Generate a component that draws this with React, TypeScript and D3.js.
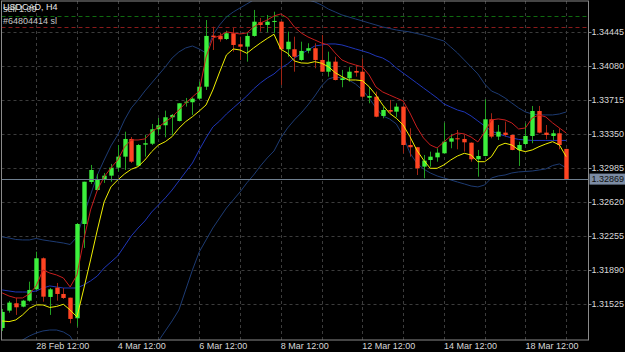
import React from "react";
import * as d3 from "d3";

const W = 625;
const H = 352;

const symbolTitle = "USDCAD, H4";
const orderText = "sell 1.00";
const slText = "#64804414 sl";

const openP = [
  1.31271, 1.31457, 1.31536, 1.315, 1.31564, 1.31686, 1.32019, 1.31604, 1.31704, 1.31636,
  1.31596, 1.31375, 1.32387, 1.32838, 1.32752, 1.3286, 1.32906, 1.32992, 1.3311, 1.333,
  1.33013, 1.33239, 1.33249, 1.33404, 1.33447, 1.33533, 1.33493, 1.3369, 1.33694, 1.33733,
  1.33861, 1.34409, 1.34409, 1.34373, 1.34435, 1.34316, 1.34291, 1.34406, 1.34553, 1.34524,
  1.34559, 1.34559, 1.34263, 1.34263, 1.34148, 1.34248, 1.34274, 1.34148, 1.34022, 1.3413,
  1.33933, 1.33951, 1.3403, 1.34022, 1.33743, 1.33754, 1.33547, 1.33611, 1.33593, 1.33647,
  1.33235, 1.33211, 1.33003, 1.33074, 1.33103, 1.33146, 1.33271, 1.33307, 1.333, 1.3326,
  1.33082, 1.33117, 1.33511, 1.33325, 1.33368, 1.33343, 1.33182, 1.33246, 1.33332, 1.336,
  1.33368, 1.33332, 1.33361, 1.33193,
];
const highP = [
  1.31475, 1.31561, 1.31593, 1.31572, 1.31768, 1.3209, 1.32028, 1.317, 1.31754, 1.317,
  1.31596, 1.32398, 1.32841, 1.33021, 1.32924, 1.32935, 1.33032, 1.33235, 1.33378, 1.33321,
  1.33246, 1.33343, 1.33461, 1.33525, 1.33604, 1.33568, 1.33683, 1.3374, 1.33748, 1.33915,
  1.34577, 1.34505, 1.34438, 1.34462, 1.34491, 1.34398, 1.34438, 1.34685, 1.34599, 1.34631,
  1.34666, 1.34567, 1.34452, 1.34398, 1.34344, 1.34327, 1.34327, 1.34416, 1.34237, 1.34183,
  1.34041, 1.3407, 1.34094, 1.34166, 1.33861, 1.33808, 1.33647, 1.33719, 1.33683, 1.33654,
  1.33415, 1.33214, 1.33128, 1.33164, 1.332, 1.33475, 1.33354, 1.33396, 1.33343, 1.33262,
  1.33182, 1.33726, 1.33576, 1.3345, 1.33486, 1.33348, 1.33271, 1.33468, 1.33654, 1.33654,
  1.3345, 1.33396, 1.33415, 1.33196,
];
const lowP = [
  1.31239, 1.31435, 1.31411, 1.31493, 1.31553, 1.31679, 1.31553, 1.31411, 1.31564, 1.31582,
  1.31321, 1.31285, 1.3213, 1.32817, 1.32745, 1.32828, 1.32841, 1.32949, 1.32967, 1.33042,
  1.3301, 1.3311, 1.33235, 1.33343, 1.33318, 1.33343, 1.33488, 1.33647, 1.33558, 1.33719,
  1.33826, 1.34255, 1.34344, 1.34363, 1.34237, 1.34148, 1.3413, 1.34398, 1.34452, 1.34445,
  1.34435, 1.3388, 1.34183, 1.34022, 1.3414, 1.3422, 1.34059, 1.34019, 1.33969, 1.33928,
  1.33855, 1.33915, 1.33969, 1.33737, 1.33683, 1.33533, 1.33522, 1.33576, 1.33533, 1.33146,
  1.3311, 1.32913, 1.32878, 1.33003, 1.33056, 1.33144, 1.332, 1.33189, 1.33164, 1.33056,
  1.32895, 1.33114, 1.33307, 1.33289, 1.33325, 1.33179, 1.3301, 1.33235, 1.33254, 1.33361,
  1.33297, 1.33289, 1.33189, 1.32865,
];
const closeP = [
  1.31443, 1.31543, 1.31493, 1.31564, 1.31679, 1.32019, 1.31607, 1.31686, 1.31636, 1.31593,
  1.31368, 1.32387, 1.32841, 1.32967, 1.3286, 1.32906, 1.32992, 1.3311, 1.333, 1.33056,
  1.33235, 1.33254, 1.33404, 1.33447, 1.33533, 1.33558, 1.33683, 1.337, 1.33733, 1.33861,
  1.34406, 1.34395, 1.3437, 1.34435, 1.34309, 1.34291, 1.34406, 1.34559, 1.34524, 1.34559,
  1.34567, 1.34263, 1.34344, 1.34183, 1.34245, 1.34274, 1.34148, 1.34022, 1.3413, 1.33933,
  1.33951, 1.34022, 1.34012, 1.33754, 1.33761, 1.33539, 1.33611, 1.33593, 1.33647, 1.33235,
  1.33211, 1.32985, 1.33067, 1.3311, 1.33153, 1.33271, 1.33307, 1.33297, 1.33264, 1.33082,
  1.33117, 1.33511, 1.33325, 1.33378, 1.33343, 1.33182, 1.33235, 1.33332, 1.336, 1.33368,
  1.33343, 1.33361, 1.33235, 1.32869,
];

const maRed = [
  1.31647, 1.31614, 1.31593, 1.31593, 1.31636, 1.31722, 1.31894, 1.31861, 1.3184, 1.31808,
  1.31711, 1.3184, 1.32216, 1.32538, 1.32752, 1.32892, 1.32989, 1.33074, 1.33214, 1.33289,
  1.33289, 1.333, 1.33375, 1.33429, 1.33482, 1.33536, 1.33611, 1.33686, 1.33751, 1.33815,
  1.3418, 1.34384, 1.34406, 1.34449, 1.34438, 1.34427, 1.34438, 1.34502, 1.34545, 1.34577,
  1.3462, 1.34642, 1.34599, 1.34502, 1.34438, 1.34395, 1.34363, 1.3433, 1.34309, 1.34223,
  1.34148, 1.34116, 1.34094, 1.34073, 1.33987, 1.33858, 1.33804, 1.33772, 1.3374, 1.33708,
  1.33579, 1.33429, 1.33311, 1.33235, 1.33203, 1.33268, 1.33332, 1.33364, 1.33354, 1.33321,
  1.33268, 1.33375, 1.33504, 1.33515, 1.33504, 1.33472, 1.33407, 1.33418, 1.33525, 1.33558,
  1.33536, 1.33472, 1.33418, 1.33364,
];
const maYellow = [
  1.31346, 1.31339, 1.31357, 1.31411, 1.31482, 1.31518, 1.31518, 1.31491, 1.31502, 1.31525,
  1.31464, 1.31389, 1.3169, 1.32001, 1.32323, 1.32624, 1.32785, 1.3286, 1.32924, 1.32975,
  1.33003, 1.33074, 1.33164, 1.33235, 1.33271, 1.33325, 1.33415, 1.33486, 1.33539, 1.336,
  1.33665, 1.33826, 1.34019, 1.34202, 1.34266, 1.34255, 1.3422, 1.34277, 1.3433, 1.34379,
  1.34424, 1.34263, 1.3422, 1.34137, 1.34116, 1.34113, 1.3413, 1.34113, 1.34076, 1.34012,
  1.33969, 1.33933, 1.33933, 1.33926, 1.33861, 1.33772, 1.33665, 1.33576, 1.33522, 1.3345,
  1.33325, 1.33182, 1.33074, 1.32985, 1.32985, 1.33021, 1.33074, 1.33117, 1.33146, 1.33128,
  1.33056, 1.33056, 1.3311, 1.33225, 1.33254, 1.33235, 1.33182, 1.33164, 1.33182, 1.33217,
  1.33246, 1.33271, 1.33235, 1.3311,
];
const bbMid = [
  1.31679, 1.31668, 1.31657, 1.31657, 1.31657, 1.31668, 1.317, 1.31722, 1.31711, 1.317,
  1.317, 1.317, 1.31733, 1.31776, 1.31829, 1.31915, 1.31979, 1.32044, 1.32151, 1.32259,
  1.32344, 1.3242, 1.32516, 1.32591, 1.32667, 1.32752, 1.32849, 1.32946, 1.33042, 1.33182,
  1.33311, 1.33429, 1.33493, 1.33568, 1.33633, 1.33697, 1.33761, 1.33837, 1.33901, 1.33955,
  1.33998, 1.34062, 1.34105, 1.34169, 1.34212, 1.34255, 1.34298, 1.34309, 1.3432, 1.3432,
  1.34309, 1.34288, 1.34266, 1.34245, 1.34223, 1.34191, 1.34169, 1.34126, 1.34062, 1.34008,
  1.33955, 1.33901, 1.33847, 1.33794, 1.3374, 1.33676, 1.33643, 1.33611, 1.3359, 1.33547,
  1.33493, 1.33439, 1.33386, 1.33354, 1.33332, 1.33311, 1.33295, 1.33289, 1.33284, 1.33284,
  1.33284, 1.33284, 1.33284, 1.33284,
];
const bbUpper = [
  1.32248, 1.32237, 1.32221, 1.32216, 1.32216, 1.32232, 1.32216, 1.32205, 1.32194, 1.32183,
  1.32167, 1.32248, 1.32484, 1.32699, 1.32913, 1.33074, 1.33225, 1.33343, 1.33504, 1.33633,
  1.33719, 1.33815, 1.33901, 1.33987, 1.34073, 1.34169, 1.34234, 1.34277, 1.34298, 1.34266,
  1.34223, 1.34416, 1.34524, 1.3461, 1.34663, 1.34706, 1.34749, 1.34792, 1.34824, 1.34846,
  1.34856, 1.34856, 1.34846, 1.34835, 1.34813, 1.34792, 1.34771, 1.34738, 1.34695, 1.34663,
  1.34631, 1.3461, 1.34588, 1.34567, 1.34545, 1.34524, 1.34502, 1.34486, 1.3447, 1.34459,
  1.34449, 1.34432, 1.34416, 1.34395, 1.34373, 1.34352, 1.34288, 1.34223, 1.34148, 1.34073,
  1.33998, 1.3389, 1.33815, 1.33783, 1.3374, 1.33686, 1.33633, 1.3359, 1.33568, 1.33558,
  1.33558, 1.33558, 1.33568, 1.3359,
];
const bbLower = [
  1.31013, 1.31056, 1.31099, 1.31142, 1.31185, 1.31217, 1.31239, 1.31249, 1.31249, 1.31228,
  1.31185, 1.31056, 1.30799, 1.30552, 1.30337, 1.3023, 1.30197, 1.3023, 1.30337, 1.30498,
  1.30627, 1.30766, 1.30949, 1.31131, 1.31239, 1.31346, 1.31464, 1.31679, 1.31894, 1.32087,
  1.32216, 1.32344, 1.32452, 1.32559, 1.32645, 1.32731, 1.32828, 1.32913, 1.3301, 1.33096,
  1.33171, 1.33311, 1.33418, 1.33504, 1.33579, 1.33665, 1.33761, 1.33869, 1.33944, 1.33965,
  1.33955, 1.33933, 1.3389, 1.33826, 1.3374, 1.33633, 1.33547, 1.33515, 1.33461, 1.33332,
  1.3315, 1.33042, 1.32978, 1.32935, 1.32903, 1.32881, 1.3286, 1.32838, 1.32817, 1.32795,
  1.32785, 1.32806, 1.32881, 1.32903, 1.32913, 1.32935, 1.32946, 1.32951, 1.32956, 1.32967,
  1.32978, 1.33015, 1.33032, 1.32989,
];

const priceTicks = [1.34445, 1.3408, 1.33715, 1.3335, 1.32985, 1.3262, 1.32255, 1.3189, 1.31525];
const timeLabels = ["28 Feb 12:00", "4 Mar 12:00", "6 Mar 12:00", "8 Mar 12:00", "12 Mar 12:00", "14 Mar 12:00", "18 Mar 12:00"];
const timeLabelBars = [5, 17, 29, 41, 53, 65, 77];
const bidPrice = 1.32869;
const orderPrice = 1.3462;
const slPrice = 1.34499;

const FONT = "'Liberation Sans', Arial, sans-serif";

export default function App() {
  const left = 1.5;
  const right = 588.5;
  const top = 1;
  const bottom = 340;

  const n = openP.length;
  const x = d3.scaleLinear().domain([0, n - 1]).range([2.2, 566.2]);
  const y = d3.scaleLinear().domain([1.31525, 1.34445]).range([304.3, 32.3]);
  const gridBars = d3.range(5, n, 6);
  const bars = d3.range(n);

  const lineGen = d3
    .line<number>()
    .x((_, i) => x(i))
    .y((v) => y(v));

  const crisp = (v: number) => Math.round(v) + 0.5;
  const bodyW = 4.4;

  return (
    <svg
      width={W}
      height={H}
      style={{ position: "absolute", left: 0, top: 0, background: "#000" }}
      xmlns="http://www.w3.org/2000/svg"
    >
      <defs>
        <clipPath id="plot">
          <rect x={left} y={top} width={right - left} height={bottom - top} />
        </clipPath>
      </defs>
      <rect x={0} y={0} width={W} height={H} fill="#000" />

      {/* grid */}
      <g stroke="#3c3c3c" strokeWidth={1} strokeDasharray="3,3">
        {priceTicks.map((p) => (
          <line key={"h" + p} x1={left} x2={right} y1={crisp(y(p))} y2={crisp(y(p))} />
        ))}
        {gridBars.map((b) => (
          <line key={"v" + b} x1={crisp(x(b))} x2={crisp(x(b))} y1={top} y2={bottom} />
        ))}
      </g>

      <g clipPath="url(#plot)">
        {/* order lines */}
        <line x1={left} x2={right} y1={crisp(y(orderPrice))} y2={crisp(y(orderPrice))} stroke="#0f6a0f" strokeDasharray="4,3" />
        <line x1={left} x2={right} y1={crisp(y(slPrice))} y2={crisp(y(slPrice))} stroke="#8a1a1a" strokeDasharray="4,3" />

        {/* Bollinger bands */}
        <path d={lineGen(bbUpper) || ""} fill="none" stroke="#1d3b73" strokeWidth={1} />
        <path d={lineGen(bbLower) || ""} fill="none" stroke="#1d3b73" strokeWidth={1} />
        <path d={lineGen(bbMid) || ""} fill="none" stroke="#1f36b8" strokeWidth={1} />

        {/* candles */}
        {bars.map((i) => {
          const o = openP[i];
          const c = closeP[i];
          const up = c >= o;
          const cx = x(i);
          const yTop = y(Math.max(o, c));
          const yBot = y(Math.min(o, c));
          return (
            <g key={"c" + i}>
              <line
                x1={crisp(cx)}
                x2={crisp(cx)}
                y1={y(highP[i])}
                y2={y(lowP[i])}
                stroke={up ? "#22a022" : "#a02414"}
                strokeWidth={1}
              />
              <rect
                x={crisp(cx) - bodyW / 2}
                y={yTop}
                width={bodyW}
                height={Math.max(1, yBot - yTop)}
                fill={up ? "#3cf03c" : "#ff4422"}
              />
            </g>
          );
        })}

        {/* moving averages */}
        <path d={lineGen(maYellow) || ""} fill="none" stroke="#f0f000" strokeWidth={1} />
        <path d={lineGen(maRed) || ""} fill="none" stroke="#c81e1e" strokeWidth={1} />

        {/* bid line */}
        <line x1={left} x2={right} y1={crisp(y(bidPrice))} y2={crisp(y(bidPrice))} stroke="#6f7f8f" strokeWidth={1} />
      </g>

      {/* frame */}
      <rect x={left} y={top} width={right - left} height={bottom - top} fill="none" stroke="#8a8a8a" strokeWidth={1} />

      {/* price axis */}
      <g fontFamily={FONT} fontSize={9} fill="#d8d8d8">
        {priceTicks.map((p) => (
          <g key={"pt" + p}>
            <line x1={right} x2={right + 3} y1={crisp(y(p))} y2={crisp(y(p))} stroke="#8a8a8a" />
            <text x={right + 3} y={y(p)} dominantBaseline="central">
              {p.toFixed(5)}
            </text>
          </g>
        ))}
      </g>
      <rect x={right + 1} y={y(bidPrice) - 5.5} width={W - right - 1} height={11} fill="#7c8ca4" />
      <text x={right + 3} y={y(bidPrice)} dominantBaseline="central" fontFamily={FONT} fontSize={9} fill="#101010">
        {bidPrice.toFixed(5)}
      </text>

      {/* time axis */}
      <g fontFamily={FONT} fontSize={9} fill="#d8d8d8">
        {timeLabelBars.map((b, k) => (
          <text key={"tl" + b} x={x(b)} y={349}>
            {timeLabels[k]}
          </text>
        ))}
      </g>

      {/* title and order labels */}
      <g fontFamily={FONT} fontSize={9} fill="#e8e8e8">
        <text x={3} y={12} fill="#c8c8c8">{orderText}</text>
        <text x={3} y={9.5}>{symbolTitle}</text>
        <text x={3} y={24} fill="#c8c8c8">{slText}</text>
      </g>
    </svg>
  );
}
